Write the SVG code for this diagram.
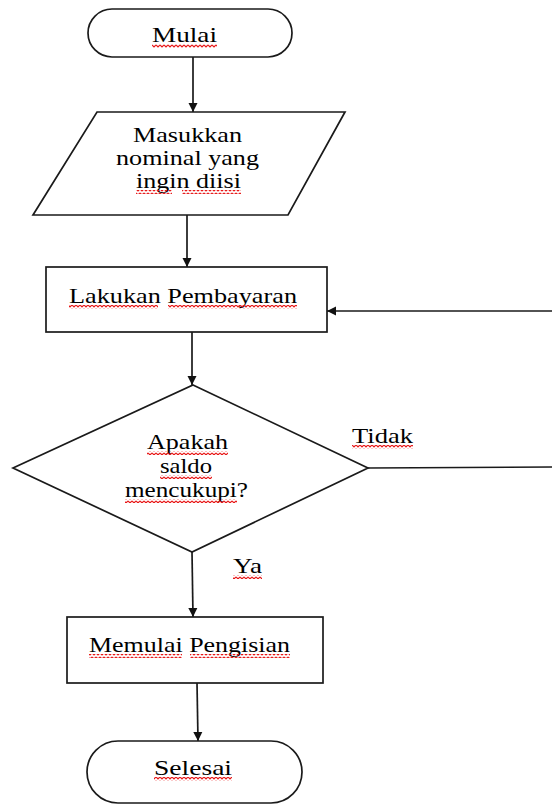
<svg xmlns="http://www.w3.org/2000/svg" width="552" height="805" viewBox="0 0 552 805">
<style>
.shape{fill:#fff;stroke:#1a1a1a;stroke-width:1.7}
.conn{fill:none;stroke:#1a1a1a;stroke-width:1.7}
.t{font-family:"Liberation Serif","Times New Roman",serif;font-size:21px;fill:#000}
.sq{fill:url(#squiggle)}
</style>
<defs>
<marker id="arr" viewBox="0 0 10 10" refX="10" refY="5" markerWidth="5.5" markerHeight="5.5" orient="auto" markerUnits="strokeWidth">
<path d="M0,0 L10,5 L0,10 z" fill="#111"/>
</marker>
<pattern id="squiggle" x="0" y="0" width="4" height="4" patternUnits="userSpaceOnUse">
<path d="M0,1 L2,3 L4,1" fill="none" stroke="#e81818" stroke-width="1.2"/>
</pattern>
</defs>
<rect width="552" height="805" fill="#fff"/>
<g id="connectors">
<line class="conn" x1="193" y1="57" x2="193" y2="112" marker-end="url(#arr)"/>
<line class="conn" x1="187" y1="215" x2="187" y2="267" marker-end="url(#arr)"/>
<line class="conn" x1="192" y1="332" x2="192" y2="385" marker-end="url(#arr)"/>
<line class="conn" x1="192" y1="552" x2="193" y2="617" marker-end="url(#arr)"/>
<line class="conn" x1="197" y1="683" x2="198" y2="741" marker-end="url(#arr)"/>
<line class="conn" x1="368" y1="468" x2="552" y2="467"/>
<line class="conn" x1="552" y1="311" x2="327" y2="311" marker-end="url(#arr)"/>
<text class="t" x="352" y="443" textLength="61" lengthAdjust="spacingAndGlyphs">Tidak</text>
<rect class="sq" x="352" y="445" width="61" height="4"/>
<text class="t" x="233" y="573" textLength="29" lengthAdjust="spacingAndGlyphs">Ya</text>
<rect class="sq" x="233" y="575" width="29" height="4"/>
</g>
<g id="start">
<rect class="shape" x="88" y="9" width="204" height="48" rx="24" ry="24"/>
<text class="t" x="152" y="42" textLength="65" lengthAdjust="spacingAndGlyphs">Mulai</text>
<rect class="sq" x="152" y="44" width="65" height="4"/>
</g>
<g id="input">
<polygon class="shape" points="97,112 345,112 288,215 33,215"/>
<text class="t" x="133" y="142" textLength="109" lengthAdjust="spacingAndGlyphs">Masukkan</text>
<text class="t" x="116" y="165" textLength="143" lengthAdjust="spacingAndGlyphs">nominal yang</text>
<text class="t" x="136" y="188" textLength="105" lengthAdjust="spacingAndGlyphs">ingin diisi</text>
<rect class="sq" x="136" y="190" width="36" height="4"/>
<rect class="sq" x="182" y="190" width="59" height="4"/>
</g>
<g id="payment">
<rect class="shape" x="46" y="267" width="281" height="65"/>
<text class="t" x="69" y="303" textLength="228" lengthAdjust="spacingAndGlyphs">Lakukan Pembayaran</text>
<rect class="sq" x="69" y="305" width="89" height="4"/>
<rect class="sq" x="168" y="305" width="129" height="4"/>
</g>
<g id="decision">
<polygon class="shape" points="193,385 368,468 192,552 13,468"/>
<text class="t" x="147" y="449" textLength="81" lengthAdjust="spacingAndGlyphs">Apakah</text>
<rect class="sq" x="147" y="451" width="81" height="4"/>
<text class="t" x="160" y="473" textLength="52" lengthAdjust="spacingAndGlyphs">saldo</text>
<rect class="sq" x="160" y="475" width="52" height="4"/>
<text class="t" x="125" y="497" textLength="123" lengthAdjust="spacingAndGlyphs">mencukupi?</text>
<rect class="sq" x="125" y="499" width="112" height="4"/>
</g>
<g id="fill">
<rect class="shape" x="67" y="617" width="256" height="66"/>
<text class="t" x="89" y="652" textLength="201" lengthAdjust="spacingAndGlyphs">Memulai Pengisian</text>
<rect class="sq" x="89" y="654" width="93" height="4"/>
<rect class="sq" x="190" y="654" width="100" height="4"/>
</g>
<g id="end">
<rect class="shape" x="87" y="741" width="215" height="62" rx="31" ry="31"/>
<text class="t" x="154" y="775" textLength="78" lengthAdjust="spacingAndGlyphs">Selesai</text>
<rect class="sq" x="154" y="777" width="78" height="4"/>
</g>
</svg>
